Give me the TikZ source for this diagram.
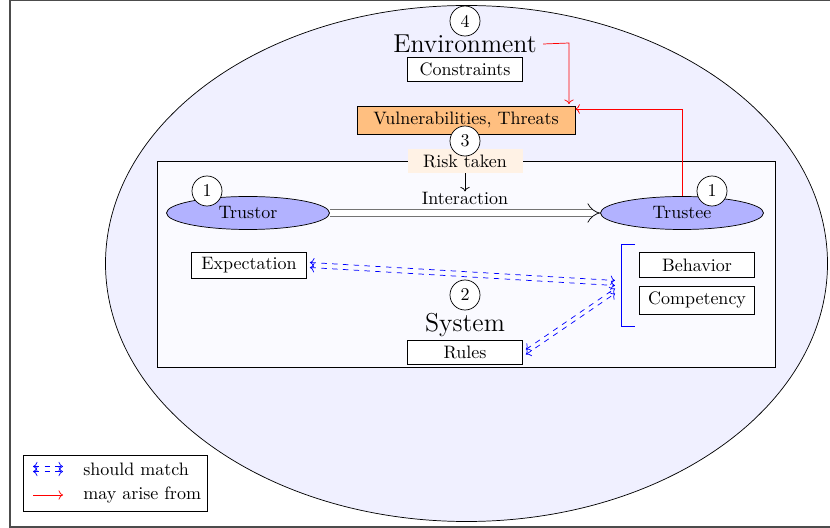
\documentclass[tikz,border=0pt]{standalone}
\usetikzlibrary{shapes.geometric,arrows.meta}
\def\u{0.5556pt}
\begin{document}
\begin{tikzpicture}[x=0.5556pt,y=-0.5556pt,
  numc/.style={circle,draw,fill=white,minimum size=30*\u,inner sep=0pt},
  box/.style={draw,fill=white,minimum width=115*\u,minimum height=24*\u,inner sep=0pt},
  agent/.style={ellipse,draw,fill=blue!30,minimum width=163*\u,minimum height=33*\u,inner sep=0pt},
  match/.style={draw=none,
    preaction={draw,blue,dashed,<->,transform canvas={yshift=1.4pt}},
    postaction={draw,blue,dashed,<->,transform canvas={yshift=-1.4pt}}},
  arise/.style={red,-{To}},
  bigtxt/.style={font=\Large,inner sep=0pt}]
\useasboundingbox (0,0) rectangle (830,528);
\draw[black!70,line width=0.8pt] (830,0.5) -- (10,0.5) -- (10,527) -- (830,527);
% environment
\node[ellipse,draw,fill=blue!6,minimum width=722*\u,minimum height=516*\u,inner sep=0pt] (env) at (466.5,263.5) {};
% system
\node[draw,fill=blue!2,minimum width=618*\u,minimum height=206*\u,inner sep=0pt] (sys) at (466,264) {};
\node[numc] (n4) at (465,21) {4};
\node[bigtxt] (envt) at (465,44) {Environment};
\node[box] (cons) at (465,69) {Constraints};
\node[box,fill=orange!50,minimum width=218*\u,minimum height=28*\u] (vul) at (466,120) {Vulnerabilities, Threats};
\node[box,draw=none,fill=orange!10] (risk) at (465,161) {Risk taken};
\node[numc] (n3) at (465,141) {3};
\node[inner sep=0pt] (inter) at (465,198) {Interaction};
\node[agent] (tor) at (248,213) {Trustor};
\node[agent] (tee) at (682,213) {Trustee};
\node[numc] (n1a) at (207,191) {1};
\node[numc] (n1b) at (712,191) {1};
\node[box,minimum height=26*\u] (exp) at (249,265) {Expectation};
\node[box,minimum height=25*\u] (beh) at (697,265) {Behavior};
\node[box,minimum height=28*\u] (comp) at (697,300) {Competency};
\node[numc] (n2) at (465,295) {2};
\node[bigtxt] (syst) at (465,325) {System};
\node[box] (rules) at (465,352) {Rules};
% bracket
\coordinate (bt) at (621,244);
\coordinate (bb) at (621,326);
\draw[blue] (635,244) -- (bt) -- (bb) -- (635,326);
\coordinate (m1) at (615,283);
\coordinate (m2) at (615,291);
% connectors
\draw[-{To}] (risk.south) -- (inter.north);
\draw[black!55,double,double distance=3.5pt,-{Implies[black]}] (tor.east) -- (tee.west);
\draw[match] ([xshift=3*\u]exp.east) -- (m1);
\draw[match] ([xshift=3*\u]rules.east) -- (m2);
\coordinate (e1) at (569,43);
\draw[arise] (envt.east) ++(6,0) -- (e1) -- (569,104);
\coordinate (t1) at (682,109);
\draw[arise] (tee.north) -- (t1) -- (vul.east |- t1);
% legend
\node[draw,minimum width=184*\u,minimum height=56*\u,inner sep=0pt] (leg) at (115,483) {};
\coordinate (l1a) at (33,469); \coordinate (l1b) at (63,469);
\coordinate (l2a) at (33,495); \coordinate (l2b) at (63,495);
\draw[match] (l1a) -- (l1b);
\draw[arise] (l2a) -- (l2b);
\node[anchor=west,inner sep=0pt] (lt1) at (83,469) {should match};
\node[anchor=west,inner sep=0pt] (lt2) at (83,495) {may arise from};
\end{tikzpicture}
\end{document}
